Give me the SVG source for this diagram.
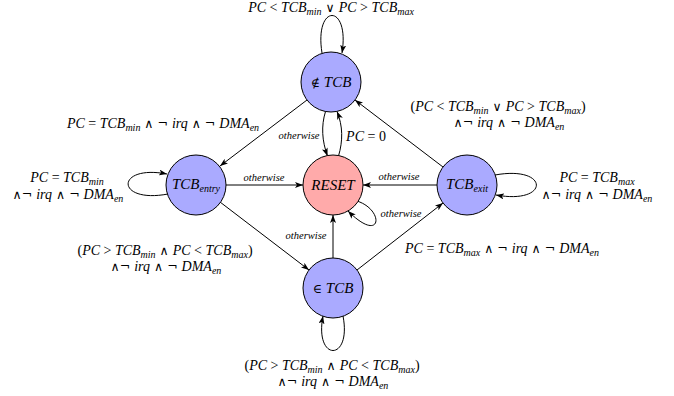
<svg xmlns="http://www.w3.org/2000/svg" width="674" height="396" viewBox="0 0 674 396">
<style>
.m{font-family:"Liberation Serif","Times New Roman",serif;font-style:italic;font-size:14px;fill:#000}
.u{font-style:normal}
.k{font-family:"DejaVu Serif",serif;font-style:normal;font-size:12.5px}
.s{font-size:10px}
.o{font-family:"Liberation Serif","Times New Roman",serif;font-style:italic;font-size:10.5px;fill:#000}
.n{font-family:"Liberation Serif","Times New Roman",serif;font-style:italic;font-size:15px;fill:#000}
.b{fill:#aaaaff;stroke:#000;stroke-width:1}
.r{fill:#ffaaaa;stroke:#000;stroke-width:1}
.e{fill:none;stroke:#000;stroke-width:1;marker-end:url(#a)}
</style>
<defs>
<marker id="a" markerWidth="8" markerHeight="6" refX="8" refY="3" orient="auto" markerUnits="userSpaceOnUse"><path d="M0,0 L8,3 L0,6 L2,3 z" fill="#000"/></marker>
</defs>
<g id="edges">
<path class="e" d="M322,53 C314,3 350,3 342,53"/>
<path class="e" d="M307,100 L220,166"/>
<path class="e" d="M443,167 L355,100"/>
<path class="e" d="M325.5,111.5 C321,126 322,141 327.5,156"/>
<path class="e" d="M338.5,156 C343,141 343,126 337,111.5"/>
<path class="e" d="M226,185 L303,185"/>
<path class="e" d="M437,185 L363,185"/>
<path class="e" d="M357,201 C385,210 382,245 348,211"/>
<path class="e" d="M333,258 L333,215"/>
<path class="e" d="M220,202 L309,270"/>
<path class="e" d="M357,270 L443,203"/>
<path class="e" d="M343,316 C352,362 314,362 323,316"/>
<path class="e" d="M168,194 C115,204 115,164 167,174"/>
<path class="e" d="M495,175 C550,165 550,205 496,195"/>
</g>
<g id="labels">
<text x="331" y="12" class="m" text-anchor="middle">PC<tspan class="u"> &lt; </tspan>TCB<tspan class="s" dy="2.5">min</tspan><tspan dy="-2.5" class="k"> ∨ </tspan>PC<tspan class="u"> &gt; </tspan>TCB<tspan class="s" dy="2.5">max</tspan></text>
<text x="163" y="128" class="m" text-anchor="middle">PC<tspan class="u"> = </tspan>TCB<tspan class="s" dy="2.5">min</tspan><tspan dy="-2.5" class="k"> ∧ ¬ </tspan>irq<tspan class="k"> ∧ ¬ </tspan>DMA<tspan class="s" dy="2.5">en</tspan></text>
<text x="498" y="111" class="m" text-anchor="middle"><tspan class="u">(</tspan>PC<tspan class="u"> &lt; </tspan>TCB<tspan class="s" dy="2.5">min</tspan><tspan dy="-2.5" class="k"> ∨ </tspan>PC<tspan class="u"> &gt; </tspan>TCB<tspan class="s" dy="2.5">max</tspan><tspan dy="-2.5" class="u">)</tspan></text>
<text x="509" y="127" class="m" text-anchor="middle"><tspan class="k">∧¬ </tspan>irq<tspan class="k"> ∧ ¬ </tspan>DMA<tspan class="s" dy="2.5">en</tspan></text>
<text x="299" y="139" class="o" text-anchor="middle">otherwise</text>
<text x="366" y="141" class="m" text-anchor="middle">PC<tspan class="u"> = 0</tspan></text>
<text x="264" y="181" class="o" text-anchor="middle">otherwise</text>
<text x="399" y="180" class="o" text-anchor="middle">otherwise</text>
<text x="401" y="217" class="o" text-anchor="middle">otherwise</text>
<text x="306" y="239" class="o" text-anchor="middle">otherwise</text>
<text x="67" y="182" class="m" text-anchor="middle">PC<tspan class="u"> = </tspan>TCB<tspan class="s" dy="2.5">min</tspan></text>
<text x="68" y="199" class="m" text-anchor="middle"><tspan class="k">∧¬ </tspan>irq<tspan class="k"> ∧ ¬ </tspan>DMA<tspan class="s" dy="2.5">en</tspan></text>
<text x="597" y="182" class="m" text-anchor="middle">PC<tspan class="u"> = </tspan>TCB<tspan class="s" dy="2.5">max</tspan></text>
<text x="597" y="199" class="m" text-anchor="middle"><tspan class="k">∧¬ </tspan>irq<tspan class="k"> ∧ ¬ </tspan>DMA<tspan class="s" dy="2.5">en</tspan></text>
<text x="165" y="255" class="m" text-anchor="middle"><tspan class="u">(</tspan>PC<tspan class="u"> &gt; </tspan>TCB<tspan class="s" dy="2.5">min</tspan><tspan dy="-2.5" class="k"> ∧ </tspan>PC<tspan class="u"> &lt; </tspan>TCB<tspan class="s" dy="2.5">max</tspan><tspan dy="-2.5" class="u">)</tspan></text>
<text x="166" y="271" class="m" text-anchor="middle"><tspan class="k">∧¬ </tspan>irq<tspan class="k"> ∧ ¬ </tspan>DMA<tspan class="s" dy="2.5">en</tspan></text>
<text x="502" y="253" class="m" text-anchor="middle">PC<tspan class="u"> = </tspan>TCB<tspan class="s" dy="2.5">max</tspan><tspan dy="-2.5" class="k"> ∧ ¬ </tspan>irq<tspan class="k"> ∧ ¬ </tspan>DMA<tspan class="s" dy="2.5">en</tspan></text>
<text x="332" y="370" class="m" text-anchor="middle"><tspan class="u">(</tspan>PC<tspan class="u"> &gt; </tspan>TCB<tspan class="s" dy="2.5">min</tspan><tspan dy="-2.5" class="k"> ∧ </tspan>PC<tspan class="u"> &lt; </tspan>TCB<tspan class="s" dy="2.5">max</tspan><tspan dy="-2.5" class="u">)</tspan></text>
<text x="333" y="386" class="m" text-anchor="middle"><tspan class="k">∧¬ </tspan>irq<tspan class="k"> ∧ ¬ </tspan>DMA<tspan class="s" dy="2.5">en</tspan></text>
</g>
<g id="notTCB"><circle class="b" cx="331" cy="82" r="30"/><text x="331" y="87" class="n" text-anchor="middle"><tspan class="k" font-size="15">∉ </tspan>TCB</text></g>
<g id="TCBentry"><circle class="b" cx="196" cy="185" r="30"/><text x="196" y="189" class="n" text-anchor="middle">TCB<tspan class="s" dy="2.5">entry</tspan></text></g>
<g id="RESET"><circle class="r" cx="333" cy="185" r="30"/><text x="333" y="190" class="n" text-anchor="middle">RESET</text></g>
<g id="TCBexit"><circle class="b" cx="467" cy="185" r="30"/><text x="467" y="189" class="n" text-anchor="middle">TCB<tspan class="s" dy="2.5">exit</tspan></text></g>
<g id="inTCB"><circle class="b" cx="333" cy="288" r="30"/><text x="333" y="293" class="n" text-anchor="middle"><tspan class="k" font-size="15">∈ </tspan>TCB</text></g>
</svg>
